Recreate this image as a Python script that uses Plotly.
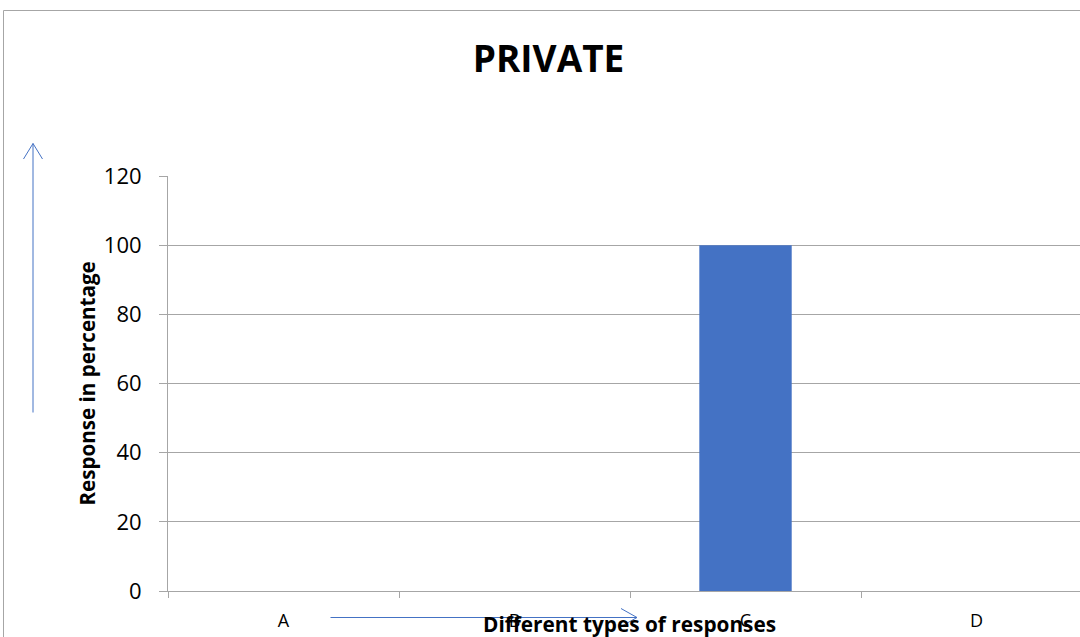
import plotly.graph_objects as go

# ---- data ----
categories = ["A", "B", "C", "D"]
values = [0, 0, 100, 0]
title_text = "PRIVATE"
x_title = "Different types of responses"
y_title = "Response in percentage"

# ---- layout geometry (pixels) ----
W, H = 1080, 637
L, R, T, B = 168, 0, 176, 46
PW, PH = W - L - R, H - T - B

def px(x):
    return (x - L) / PW

def py(y):
    return (H - B - y) / PH

FONT = "Open Sans"
GRID = "#a6a6a6"
AX = "#a6a6a6"
ARROW = "#4472C4"

fig = go.Figure()
fig.add_trace(go.Bar(
    x=categories, y=values, width=0.4,
    marker=dict(color="#4472C4", line=dict(width=0)),
))

shapes = []
# chart border
shapes.append(dict(type="rect", xref="paper", yref="paper",
                   x0=px(3.5), x1=px(1100), y0=py(650), y1=py(10.5),
                   line=dict(color=AX, width=1), fillcolor="rgba(0,0,0,0)", layer="below"))
# vertical arrow
shapes.append(dict(type="line", xref="paper", yref="paper",
                   x0=px(33), x1=px(33), y0=py(412.5), y1=py(143.5),
                   line=dict(color=ARROW, width=1)))
shapes.append(dict(type="path", xref="paper", yref="paper",
                   path=f"M {px(23.5)} {py(159)} L {px(33)} {py(143.5)} L {px(42.5)} {py(159)}",
                   line=dict(color=ARROW, width=1)))
# horizontal arrow
shapes.append(dict(type="line", xref="paper", yref="paper",
                   x0=px(330.5), x1=px(637), y0=py(617.5), y1=py(617.5),
                   line=dict(color=ARROW, width=1)))
shapes.append(dict(type="path", xref="paper", yref="paper",
                   path=f"M {px(621)} {py(608.5)} L {px(637)} {py(617.5)} L {px(621)} {py(626.5)}",
                   line=dict(color=ARROW, width=1)))

annotations = [
    dict(text=f"<b>{y_title}</b>", xref="paper", yref="paper",
         x=px(86), y=0.5, textangle=-90, showarrow=False,
         xanchor="center", yanchor="middle",
         font=dict(family=FONT, size=20.6, color="black")),
    dict(text=f"<b>{x_title}</b>", xref="paper", yref="paper",
         x=px(629), y=py(624), showarrow=False,
         xanchor="center", yanchor="middle",
         font=dict(family=FONT, size=20.8, color="black")),
]

fig.update_layout(
    width=W, height=H,
    margin=dict(l=L, r=R, t=T, b=B, autoexpand=False),
    paper_bgcolor="white", plot_bgcolor="white",
    showlegend=False,
    title=dict(text=f"<b>{title_text}</b>", x=px(548.5), xref="paper",
               xanchor="center", y=1 - 59 / H, yref="container", yanchor="middle",
               font=dict(family=FONT, size=37, color="black")),
    shapes=shapes,
    annotations=annotations,
    bargap=0.6,
)

fig.update_xaxes(
    type="category", range=[-0.5, 3.448],
    showgrid=False, showline=True, linecolor=AX, linewidth=1,
    ticks="outside", tickson="boundaries", ticklen=6, tickcolor=AX,
    tickfont=dict(family=FONT, size=18, color="black"),
    ticklabelstandoff=13,
    zeroline=False,
)
fig.update_yaxes(
    range=[0, 120], dtick=20, tick0=0,
    showgrid=True, gridcolor=GRID, gridwidth=1,
    showline=True, linecolor=AX, linewidth=1,
    ticks="outside", ticklen=8, tickcolor=AX,
    tickfont=dict(family=FONT, size=22, color="black"),
    ticklabelstandoff=13,
    zeroline=False,
)

fig.write_html("out.html")
